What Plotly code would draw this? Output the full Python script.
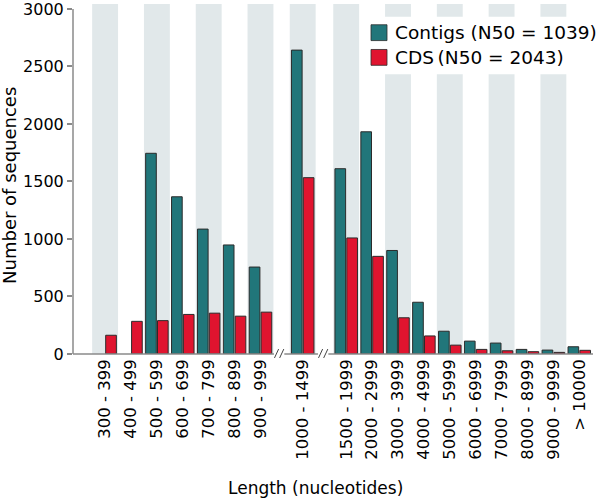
import plotly.graph_objects as go

# ---------------- data ----------------
categories = ["300 - 399", "400 - 499", "500 - 599", "600 - 699", "700 - 799",
              "800 - 899", "900 - 999", "1000 - 1499", "1500 - 1999", "2000 - 2999",
              "3000 - 3999", "4000 - 4999", "5000 - 5999", "6000 - 6999",
              "7000 - 7999", "8000 - 8999", "9000 - 9999", "> 10000"]
contigs = [0, 0, 1745, 1367, 1086, 948, 756, 2642, 1611, 1932,
           900, 450, 198, 112, 95, 40, 34, 63]
cds = [163, 284, 290, 344, 355, 329, 364, 1533, 1009, 849,
       315, 157, 77, 40, 28, 20, 14, 32]
y_ticks = [0, 500, 1000, 1500, 2000, 2500, 3000]

# ---------------- layout helpers ----------------
# positions on a numeric axis, with two broken gaps after "900 - 999" and "1000 - 1499"
pos = []
p = 0.0
for i in range(len(categories)):
    if i == 7:
        p = 7.63
    elif i == 8:
        p = 9.31
    elif i > 0:
        p = p + 1
    pos.append(p)
band_idx = [0, 2, 4, 6, 7, 8, 10, 12, 14, 16]
breaks = [6.72, 8.42]

L, R, H, PLOT_H = 73, 7, 500, 354
PW = 600 - L - R
XMIN, XMAX = -1.24, 18.84
YMAX = 3043

TEAL = "#21767a"
RED = "#e0142f"
BAND = "#e1e8ea"
AXIS = "#8a8a8a"
FONT = "DejaVu Sans"


def px_x(px):
    return (px - L) / PW


def px_y(py):
    return (PLOT_H - py) / PLOT_H


fig = go.Figure()
fig.add_trace(go.Bar(x=pos, y=[v if v > 0 else None for v in contigs], name="Contigs",
                     marker=dict(color=TEAL, line=dict(color="#2b2b2b", width=1)),
                     showlegend=False, hoverinfo="skip"))
fig.add_trace(go.Bar(x=pos, y=[v if v > 0 else None for v in cds], name="CDS",
                     marker=dict(color=RED, line=dict(color="#2b2b2b", width=1)),
                     showlegend=False, hoverinfo="skip"))

shapes = []
for i in band_idx:
    shapes.append(dict(type="rect", xref="x", yref="paper", x0=pos[i] - 0.5, x1=pos[i] + 0.5,
                       y0=0, y1=1, fillcolor=BAND, line=dict(width=0), layer="below"))
# white legend background
shapes.append(dict(type="rect", xref="paper", yref="paper", x0=px_x(364), x1=px_x(600),
                   y0=px_y(71), y1=px_y(13), fillcolor="white", line=dict(width=0), layer="below"))
# y axis line
shapes.append(dict(type="line", xref="paper", yref="y", x0=0, x1=0, y0=0, y1=3000,
                   line=dict(color=AXIS, width=1.5)))
# x axis line with breaks
segs = [(XMIN, breaks[0] - 0.2), (breaks[0] + 0.2, breaks[1] - 0.2), (breaks[1] + 0.2, XMAX)]
for a, b in segs:
    shapes.append(dict(type="line", xref="x", yref="paper", x0=a, x1=b, y0=0, y1=0,
                       line=dict(color=AXIS, width=1.5)))
for b in breaks:
    for d in (-0.1, 0.1):
        shapes.append(dict(type="line", xref="x", yref="paper",
                           x0=b + d - 0.08, x1=b + d + 0.08,
                           y0=px_y(358), y1=px_y(349),
                           line=dict(color="#444444", width=1)))
# legend swatches
shapes.append(dict(type="rect", xref="paper", yref="paper", x0=px_x(371), x1=px_x(387),
                   y0=px_y(37), y1=px_y(21), fillcolor=TEAL, line=dict(color="#2b2b2b", width=0.8)))
shapes.append(dict(type="rect", xref="paper", yref="paper", x0=px_x(371), x1=px_x(387),
                   y0=px_y(62), y1=px_y(46), fillcolor=RED, line=dict(color="#2b2b2b", width=0.8)))

annotations = [
    dict(text="Contigs (N50 = 1039)", xref="paper", yref="paper", x=px_x(393), y=px_y(29),
         xanchor="left", yanchor="middle", showarrow=False, font=dict(size=18.5, color="black")),
    dict(text="CDS\u2009(N50 = 2043)", xref="paper", yref="paper", x=px_x(393), y=px_y(54),
         xanchor="left", yanchor="middle", showarrow=False, font=dict(size=18.5, color="black")),
    dict(text="Number of sequences", xref="paper", yref="paper", x=px_x(10), y=px_y(184),
         xanchor="center", yanchor="middle", textangle=-90, showarrow=False,
         font=dict(size=18, color="black")),
    dict(text="Length (nucleotides)", xref="paper", yref="paper", x=px_x(315), y=px_y(490),
         xanchor="center", yanchor="middle", showarrow=False, font=dict(size=17, color="black")),
]

fig.update_layout(
    width=600, height=500,
    margin=dict(l=L, r=R, t=0, b=H - PLOT_H, pad=0),
    paper_bgcolor="white", plot_bgcolor="white",
    font=dict(family=FONT, color="black"),
    barmode="group", bargap=0.085, bargroupgap=0.1,
    shapes=shapes, annotations=annotations,
    xaxis=dict(range=[XMIN, XMAX], tickmode="array", tickvals=pos, ticktext=categories,
               tickangle=-90, tickfont=dict(size=16.5), showgrid=False, zeroline=False,
               showline=False, ticks="", ticklabelstandoff=1, ticklabeloverflow="allow"),
    yaxis=dict(range=[0, YMAX], tickmode="array", tickvals=y_ticks,
               ticktext=[str(v) for v in y_ticks], tickfont=dict(size=16),
               showgrid=False, zeroline=False, showline=False, ticks="outside",
               ticklen=5, tickcolor=AXIS, tickwidth=1.5, ticklabeloverflow="allow"),
)

fig.write_html("out.html", config={"displayModeBar": False},
               post_script="document.body.style.margin='0';")
